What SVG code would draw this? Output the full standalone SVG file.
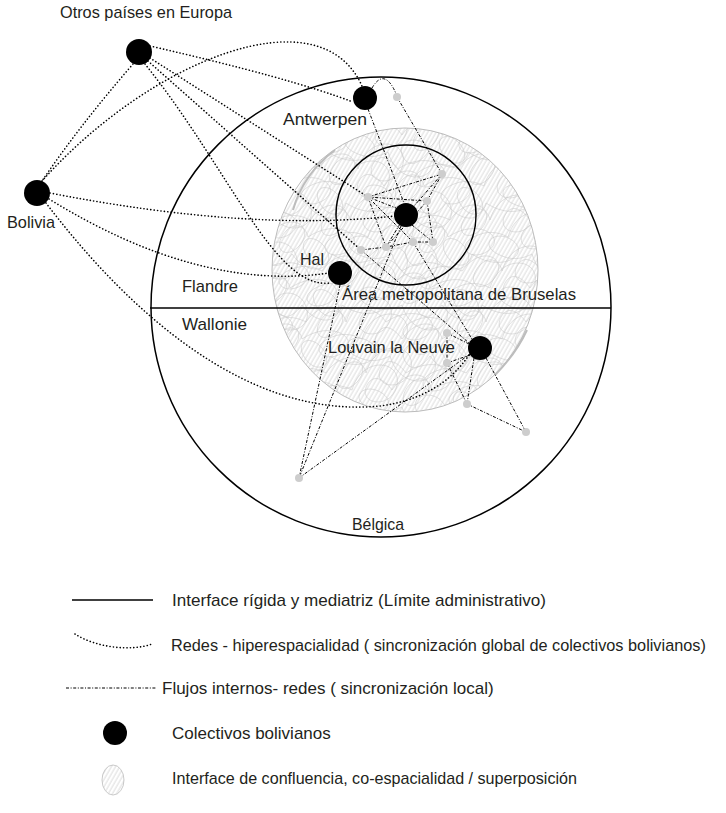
<svg xmlns="http://www.w3.org/2000/svg" width="726" height="813" viewBox="0 0 726 813">
<style>
text{font-family:"Liberation Sans",Arial,sans-serif;fill:#231f20;font-size:17px}
text.l2{font-size:16.3px}
.dot{stroke:#000;stroke-width:1.6;fill:none;stroke-dasharray:0.1 3.3;stroke-linecap:round}
.dd{stroke:#000;stroke-width:1;fill:none;stroke-dasharray:3 1.6 1 1.6}
.solid{stroke:#000;stroke-width:1.5;fill:none}
.node{fill:#000}
.sm{fill:#cdcdcd}
.scr{fill:none;stroke:#c8c8c8;stroke-width:0.55}
</style>
<defs>
<pattern id="hatch" width="3.6" height="10" patternUnits="userSpaceOnUse" patternTransform="rotate(30)">
<line x1="1" y1="0" x2="1" y2="10" stroke="#c4c4c4" stroke-width="0.6"/>
</pattern>
<clipPath id="confClip"><ellipse cx="405" cy="270" rx="133" ry="142"/></clipPath>
<path id="rowA" class="scr" d="M0,0 c20,-28 48,-12 32,8 c-14,16 -30,4 -14,-14 c10,-10 20,-4 22,6 c30,-20 60,0 40,14 c-18,12 -36,-6 -10,-16 c14,-6 26,0 30,2 c10,-35 50,-30 45,-5 c-5,25 -40,20 -30,0 c8,-14 20,-2 25,5 c20,-28 48,-12 32,8 c-14,16 -30,4 -14,-14 c10,-10 20,-4 22,6 c30,-20 60,0 40,14 c-18,12 -36,-6 -10,-16 c14,-6 26,0 30,2 c10,-35 50,-30 45,-5 c-5,25 -40,20 -30,0 c8,-14 20,-2 25,5 c20,-28 48,-12 32,8 c-14,16 -30,4 -14,-14 c10,-10 20,-4 22,6"/>
<path id="rowB" class="scr" d="M0,0 c10,35 50,30 45,5 c-5,-25 -40,-20 -30,0 c8,14 20,2 25,-5 c20,28 48,12 32,-8 c-14,-16 -30,-4 -14,14 c10,10 20,4 22,-6 c30,20 60,0 40,-14 c-18,-12 -36,6 -10,16 c14,6 26,0 30,-2 c10,35 50,30 45,5 c-5,-25 -40,-20 -30,0 c8,14 20,2 25,-5 c20,28 48,12 32,-8 c-14,-16 -30,-4 -14,14 c10,10 20,4 22,-6 c30,20 60,0 40,-14 c-18,-12 -36,6 -10,16 c14,6 26,0 30,-2 c10,35 50,30 45,5 c-5,-25 -40,-20 -30,0 c8,14 20,2 25,-5"/>
<path id="rowC" class="scr" d="M0,0 c30,-20 60,0 40,14 c-18,12 -36,-6 -10,-16 c14,-6 26,0 30,2 c20,-28 48,-12 32,8 c-14,16 -30,4 -14,-14 c10,-10 20,-4 22,6 c10,-35 50,-30 45,-5 c-5,25 -40,20 -30,0 c8,-14 20,-2 25,5 c30,-20 60,0 40,14 c-18,12 -36,-6 -10,-16 c14,-6 26,0 30,2 c20,-28 48,-12 32,8 c-14,16 -30,4 -14,-14 c10,-10 20,-4 22,6 c10,-35 50,-30 45,-5 c-5,25 -40,20 -30,0 c8,-14 20,-2 25,5 c20,-28 48,-12 32,8 c-14,16 -30,4 -14,-14 c10,-10 20,-4 22,6"/>
</defs>
<rect width="726" height="813" fill="#fff"/>

<g id="confluence">
<ellipse cx="405" cy="270" rx="133" ry="142" fill="url(#hatch)"/>
<g clip-path="url(#confClip)">
<use href="#rowA" x="262" y="135"/>
<use href="#rowB" x="248" y="152"/>
<use href="#rowC" x="258" y="169"/>
<use href="#rowA" x="244" y="186"/>
<use href="#rowB" x="266" y="203"/>
<use href="#rowC" x="250" y="220"/>
<use href="#rowA" x="268" y="237"/>
<use href="#rowB" x="252" y="254"/>
<use href="#rowC" x="262" y="271"/>
<use href="#rowA" x="250" y="288"/>
<use href="#rowB" x="262" y="305"/>
<use href="#rowC" x="246" y="322"/>
<use href="#rowA" x="262" y="339"/>
<use href="#rowB" x="250" y="356"/>
<use href="#rowC" x="266" y="373"/>
<use href="#rowA" x="252" y="390"/>
<use href="#rowB" x="262" y="407"/>
</g>
<ellipse cx="405" cy="270" rx="133" ry="142" fill="none" stroke="#bcbcbc" stroke-width="1"/>
<path d="M335,150 C315,165 300,185 293,210" fill="none" stroke="#bdbdbd" stroke-width="2"/>
<path d="M495,375 C510,360 520,345 527,330" fill="none" stroke="#bdbdbd" stroke-width="2"/>
</g>

<g id="region-belgica">
<circle cx="381" cy="307" r="230" class="solid"/>
<line x1="150" y1="308" x2="611" y2="308" class="solid"/>
</g>
<g id="region-bruselas">
<circle cx="406" cy="215" r="70" class="solid"/>
</g>

<g id="connectors">
<path class="dot" d="M150,46 Q290,78 353,102"/>
<path class="dot" d="M150,58 L368,197"/>
<path class="dot" d="M145,64 C230,170 275,290 330,283"/>
<path class="dot" d="M148,61 L361,250"/>
<path class="dot" d="M133,64 Q80,125 42,181"/>
<path class="dot" d="M42,181 C150,60 320,-8 362,86"/>
<path class="dot" d="M50,193 Q250,232 395,216"/>
<path class="dot" d="M49,199 Q200,292 329,273"/>
<path class="dot" d="M46,203 C120,300 240,420 380,406 Q440,398 469,355"/>
<path class="dd" d="M368,109 L404,203"/>
<path class="dd" d="M372,88 Q385,66 397,96"/>
<path class="dd" d="M397,97 L442,174"/>
<path class="dd" d="M368,197 L442,174"/>
<path class="dd" d="M368,197 L427,201"/>
<path class="dd" d="M368,197 L396,208"/>
<path class="dd" d="M368,197 L386,247"/>
<path class="dd" d="M368,197 L413,242"/>
<path class="dd" d="M427,201 L442,174"/>
<path class="dd" d="M427,201 L433,242"/>
<path class="dd" d="M427,201 L386,247"/>
<path class="dd" d="M442,174 L414,206"/>
<path class="dd" d="M400,224 L386,247"/>
<path class="dd" d="M412,225 L433,242"/>
<path class="dd" d="M361,250 L386,247 L413,242 L433,242"/>
<path class="dd" d="M401,226 L299,478"/>
<path class="dd" d="M340,285 L299,478"/>
<path class="dd" d="M299,478 L470,354"/>
<path class="dd" d="M413,242 L472,339"/>
<path class="dd" d="M361,250 L469,343"/>
<path class="dd" d="M447,333 L469,344"/>
<path class="dd" d="M447,333 L447,363 L467,404"/>
<path class="dd" d="M474,358 L467,404"/>
<path class="dd" d="M470,355 L447,363"/>
<path class="dd" d="M486,358 L526,432"/>
<path class="dd" d="M467,404 L526,432"/>
</g>

<g id="flow-points">
<circle class="sm" cx="397" cy="97" r="4"/>
<circle class="sm" cx="442" cy="174" r="4"/>
<circle class="sm" cx="368" cy="197" r="4"/>
<circle class="sm" cx="427" cy="201" r="4"/>
<circle class="sm" cx="433" cy="242" r="4"/>
<circle class="sm" cx="413" cy="242" r="4"/>
<circle class="sm" cx="386" cy="247" r="4"/>
<circle class="sm" cx="361" cy="250" r="4"/>
<circle class="sm" cx="447" cy="333" r="4"/>
<circle class="sm" cx="447" cy="363" r="4"/>
<circle class="sm" cx="467" cy="404" r="4"/>
<circle class="sm" cx="526" cy="432" r="4"/>
<circle class="sm" cx="299" cy="478" r="4"/>
</g>

<g id="node-otros">
<circle class="node" cx="139" cy="52" r="13"/>
<text x="60" y="18" textLength="172" lengthAdjust="spacingAndGlyphs">Otros países en Europa</text>
</g>
<g id="node-bolivia">
<circle class="node" cx="37" cy="193" r="13"/>
<text x="7" y="228" textLength="48" lengthAdjust="spacingAndGlyphs">Bolivia</text>
</g>
<g id="node-antwerpen">
<circle class="node" cx="365" cy="98" r="12"/>
<text x="283" y="125" textLength="84" lengthAdjust="spacingAndGlyphs">Antwerpen</text>
</g>
<g id="node-bruselas">
<circle class="node" cx="406" cy="215" r="12"/>
<text x="342" y="300" textLength="234" lengthAdjust="spacingAndGlyphs">Área metropolitana de Bruselas</text>
</g>
<g id="node-hal">
<circle class="node" cx="340" cy="273" r="12"/>
<text x="300" y="265" textLength="24" lengthAdjust="spacingAndGlyphs">Hal</text>
</g>
<g id="node-louvain">
<circle class="node" cx="480" cy="348" r="12"/>
<text x="328" y="353" textLength="127" lengthAdjust="spacingAndGlyphs">Louvain la Neuve</text>
</g>
<g id="labels">
<text x="182" y="292" textLength="56" lengthAdjust="spacingAndGlyphs">Flandre</text>
<text x="182" y="330" textLength="65" lengthAdjust="spacingAndGlyphs">Wallonie</text>
<text x="352" y="530" textLength="52" lengthAdjust="spacingAndGlyphs">Bélgica</text>
</g>

<g id="legend">
<line x1="72" y1="600" x2="153" y2="600" class="solid"/>
<text x="172" y="606" textLength="374" lengthAdjust="spacingAndGlyphs">Interface rígida y mediatriz (Límite administrativo)</text>
<path class="dot" d="M75,634 C95,647 130,652 152,644"/>
<text class="l2" x="171" y="651">Redes - hiperespacialidad ( sincronización global de colectivos bolivianos)</text>
<line x1="66" y1="688" x2="157" y2="688" class="dd"/>
<text x="162" y="694">Flujos internos- redes ( sincronización local)</text>
<circle class="node" cx="115" cy="733" r="12"/>
<text x="172" y="739">Colectivos bolivianos</text>
<ellipse cx="113" cy="780" rx="11" ry="15" fill="url(#hatch)" stroke="#bdbdbd" stroke-width="0.8"/>
<text x="172" y="784" textLength="405" lengthAdjust="spacingAndGlyphs">Interface de confluencia, co-espacialidad / superposición</text>
</g>
</svg>
